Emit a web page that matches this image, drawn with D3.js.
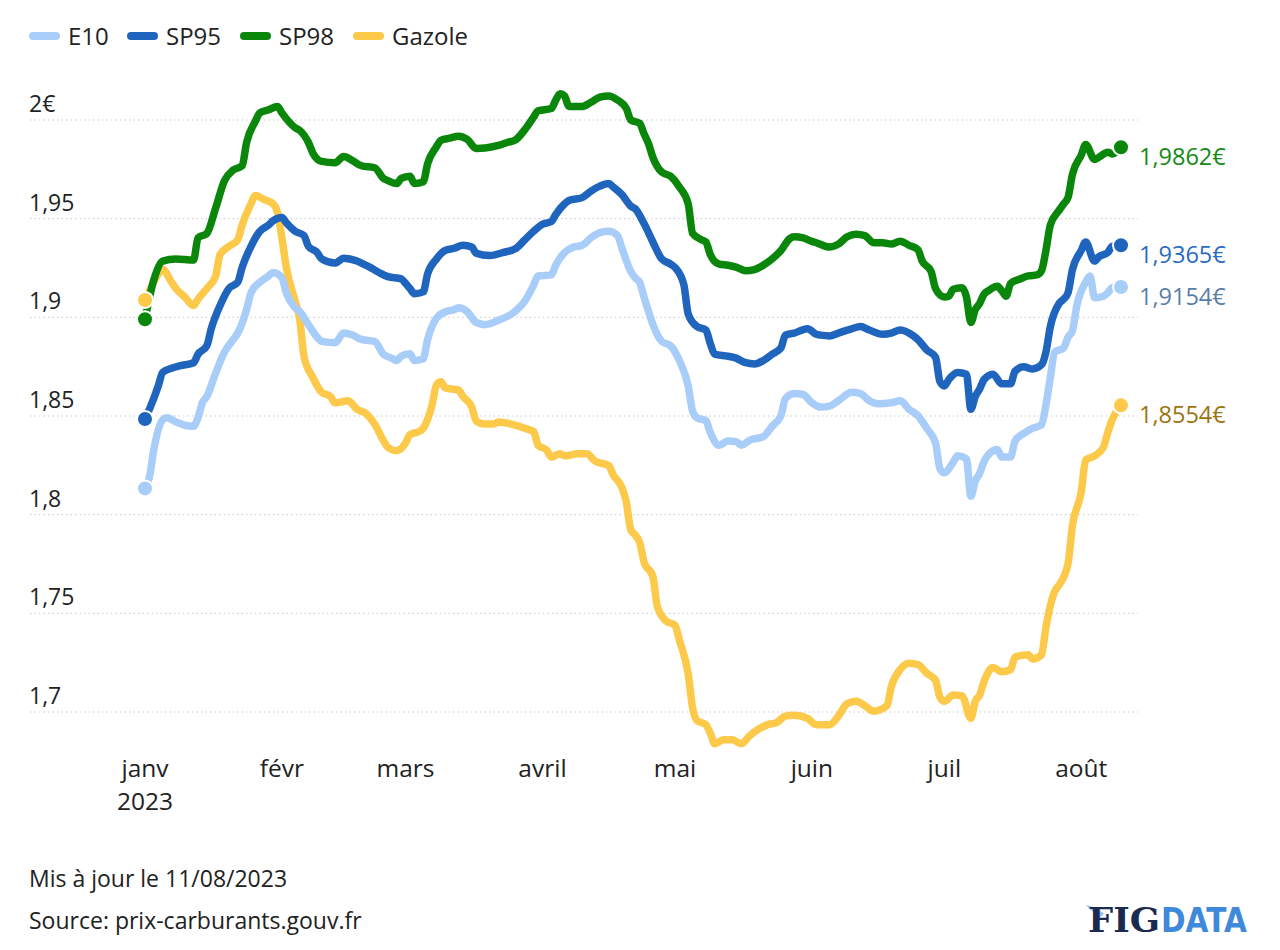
<!DOCTYPE html>
<html><head><meta charset="utf-8">
<script src="https://cdn.jsdelivr.net/npm/d3@7"></script>
<style>body{margin:0;background:#fff} svg text{font-family:"Open Sans","Noto Sans",sans-serif}</style>
</head><body><svg id="c" width="1280" height="950"></svg>
<script>
// x values: days since 1 Jan 2023
const startDate = new Date(2023, 0, 1);
const seriesNames = ["E10", "SP95", "SP98", "Gazole"];
const seriesColors = ["#a9cdf9", "#1f64bd", "#0a870a", "#fdc94b"];
const labelColors = ["#5a7ea8", "#2a6cc2", "#148a14", "#9a7412"];

const e10 = [[0,1.8133],[1,1.819],[2,1.833],[4,1.848],[5,1.8491],[7,1.847],[9,1.8453],[11,1.8448],[12,1.8491],[13,1.8567],[14,1.8599],[16,1.8717],[18,1.8824],[20,1.8888],[21,1.892],[23,1.9039],[24,1.9124],[26,1.9178],[28,1.921],[29,1.9227],[31,1.92],[32,1.9124],[34,1.9049],[35,1.903],[37,1.8963],[39,1.8899],[40,1.8878],[43,1.8871],[45,1.892],[47,1.891],[49,1.8888],[52,1.8878],[54,1.8813],[56,1.8792],[57,1.8781],[58,1.8803],[60,1.8815],[61,1.8781],[63,1.879],[64,1.8888],[66,1.8996],[68,1.9028],[70,1.9039],[71,1.9049],[73,1.9028],[75,1.8974],[77,1.8963],[80,1.8985],[83,1.9017],[84,1.9034],[86,1.9082],[88,1.9163],[89,1.921],[92,1.9215],[93,1.9264],[95,1.9328],[97,1.9356],[99,1.9365],[101,1.9403],[103,1.9429],[105,1.9436],[107,1.9414],[108,1.935],[110,1.9232],[111,1.92],[112,1.9178],[113,1.9103],[114,1.903],[115,1.8964],[117,1.8878],[119,1.8856],[121,1.8781],[123,1.8652],[124,1.8524],[125,1.8491],[127,1.8476],[128,1.8416],[130,1.8352],[132,1.8373],[134,1.8369],[135,1.8352],[137,1.8378],[140,1.8395],[142,1.8448],[144,1.8502],[145,1.8588],[147,1.8614],[149,1.8609],[151,1.8567],[153,1.8545],[155,1.855],[157,1.8577],[160,1.862],[162,1.8614],[164,1.8577],[166,1.8562],[169,1.8567],[171,1.8577],[173,1.8534],[175,1.8502],[177,1.8438],[179,1.8363],[180,1.8234],[181,1.8212],[183,1.8266],[184,1.8298],[186,1.8283],[187,1.8094],[188,1.817],[189,1.821],[190,1.827],[191,1.8305],[193,1.833],[194,1.8292],[196,1.8292],[197,1.8373],[199,1.8412],[201,1.8438],[203,1.8455],[204,1.8556],[205,1.8695],[206,1.8824],[208,1.8845],[209,1.8899],[210,1.8931],[211,1.906],[213,1.9178],[214,1.921],[215,1.9099],[217,1.9107],[218,1.9124],[219,1.915],[221,1.9154]];

const sp95 = [[0,1.8485],[1,1.8534],[3,1.8652],[4,1.8721],[6,1.8742],[8,1.8755],[11,1.877],[12,1.8813],[14,1.8856],[15,1.8942],[17,1.906],[19,1.9146],[21,1.9178],[22,1.9253],[24,1.936],[26,1.9436],[28,1.9468],[29,1.9489],[31,1.9506],[32,1.9479],[34,1.9436],[36,1.9414],[37,1.936],[39,1.9328],[40,1.9296],[43,1.9275],[45,1.93],[48,1.9285],[49,1.9275],[51,1.9253],[53,1.9227],[55,1.9206],[58,1.9195],[59,1.9172],[60,1.9146],[61,1.912],[63,1.9129],[64,1.9221],[66,1.9296],[68,1.9339],[70,1.935],[72,1.9365],[74,1.9356],[75,1.9325],[78,1.9313],[81,1.9328],[84,1.935],[86,1.9393],[88,1.9436],[90,1.9472],[92,1.9485],[93,1.9521],[95,1.9575],[96,1.9592],[99,1.9607],[101,1.964],[103,1.9665],[105,1.9678],[106,1.9661],[108,1.9622],[110,1.9564],[111,1.955],[113,1.9475],[115,1.9382],[117,1.9296],[119,1.927],[120,1.9253],[122,1.9167],[123,1.9017],[125,1.8953],[127,1.8936],[128,1.8867],[129,1.8813],[132,1.8803],[134,1.8792],[136,1.877],[138,1.8764],[140,1.8781],[142,1.8813],[144,1.8845],[145,1.891],[147,1.892],[150,1.8942],[152,1.8914],[153,1.891],[155,1.8906],[157,1.892],[160,1.8942],[162,1.8953],[164,1.8936],[167,1.8914],[169,1.892],[171,1.8936],[174,1.8906],[175,1.8888],[177,1.8835],[179,1.8798],[180,1.8674],[181,1.8652],[182,1.8685],[184,1.8721],[186,1.8712],[187,1.8534],[188,1.8599],[189,1.8637],[190,1.8685],[192,1.8712],[194,1.8663],[196,1.8663],[197,1.8727],[199,1.8749],[201,1.8738],[203,1.876],[204,1.8824],[205,1.8953],[207,1.9071],[208,1.9092],[209,1.9124],[210,1.9242],[212,1.9339],[213,1.9382],[215,1.9285],[216,1.9307],[218,1.9328],[219,1.936],[221,1.9365]];

const sp98 = [[0,1.899],[2,1.919],[4,1.9285],[7,1.9296],[11,1.929],[12,1.9403],[14,1.9425],[16,1.9554],[18,1.9693],[20,1.9747],[22,1.9768],[23,1.9886],[25,1.9994],[26,2.0036],[28,2.0052],[30,2.0069],[31,2.0036],[34,1.9961],[35,1.9948],[37,1.9886],[38,1.9833],[40,1.979],[43,1.9783],[45,1.9815],[47,1.9794],[49,1.9768],[52,1.9758],[54,1.9704],[55,1.9693],[57,1.9678],[58,1.9704],[60,1.9715],[61,1.9678],[63,1.9687],[64,1.9779],[66,1.9865],[67,1.9897],[69,1.9908],[71,1.9918],[73,1.9901],[75,1.9856],[77,1.9858],[80,1.9871],[82,1.9886],[84,1.9901],[86,1.9951],[88,2.0015],[89,2.0047],[92,2.0058],[93,2.0101],[94,2.0133],[95,2.0122],[96,2.0069],[99,2.0069],[101,2.009],[103,2.0116],[105,2.0122],[107,2.0101],[109,2.0058],[110,2.0],[112,1.9983],[113,1.993],[114,1.988],[115,1.9811],[117,1.9736],[119,1.9715],[121,1.9661],[123,1.9575],[124,1.9425],[126,1.9393],[127,1.9382],[128,1.9318],[130,1.927],[132,1.9264],[134,1.9253],[136,1.9236],[138,1.9242],[140,1.9264],[142,1.9296],[144,1.9339],[146,1.9399],[147,1.9408],[149,1.9403],[151,1.9385],[152,1.9378],[155,1.9356],[157,1.9371],[159,1.9408],[161,1.9421],[163,1.9414],[165,1.9378],[167,1.9378],[169,1.9371],[171,1.9386],[173,1.9365],[175,1.9343],[176,1.9285],[178,1.9232],[179,1.9146],[181,1.9103],[182,1.9107],[183,1.9142],[185,1.915],[186,1.9103],[187,1.8974],[188,1.9039],[189,1.9071],[190,1.9118],[191,1.9135],[193,1.9157],[194,1.9135],[195,1.9107],[196,1.9172],[198,1.9193],[200,1.921],[202,1.9215],[203,1.9236],[204,1.9339],[205,1.9468],[207,1.9543],[208,1.9575],[209,1.9607],[210,1.9725],[212,1.9822],[213,1.9876],[215,1.98],[216,1.9811],[218,1.9837],[219,1.9828],[221,1.9862]];

const gazole = [[0,1.9088],[2,1.918],[4,1.9242],[6,1.9178],[7,1.9146],[9,1.9103],[11,1.906],[12,1.9092],[14,1.9146],[16,1.921],[17,1.9318],[19,1.936],[21,1.9393],[22,1.9468],[24,1.9575],[25,1.9618],[27,1.9597],[29,1.9575],[30,1.9532],[31,1.9403],[32,1.9253],[34,1.9082],[35,1.8996],[36,1.8803],[38,1.8695],[40,1.862],[42,1.8599],[43,1.8567],[46,1.8577],[48,1.8534],[50,1.8513],[52,1.8459],[54,1.8374],[55,1.8341],[57,1.8324],[59,1.8363],[60,1.8406],[62,1.8421],[63,1.8438],[65,1.8556],[66,1.8657],[67,1.8674],[68,1.8642],[71,1.8631],[72,1.8599],[74,1.8545],[75,1.8475],[77,1.8459],[79,1.8459],[80,1.847],[83,1.8459],[86,1.8438],[88,1.8421],[89,1.8352],[91,1.8326],[92,1.8292],[94,1.8309],[95,1.8298],[98,1.8309],[100,1.8309],[102,1.827],[105,1.8249],[106,1.8202],[108,1.8137],[109,1.8062],[110,1.7923],[111,1.7897],[112,1.786],[113,1.776],[115,1.7687],[116,1.7536],[118,1.7461],[120,1.744],[121,1.7365],[123,1.7193],[124,1.7021],[125,1.6957],[127,1.6936],[128,1.6893],[129,1.6839],[131,1.686],[133,1.686],[135,1.6839],[137,1.6882],[139,1.6914],[141,1.6936],[143,1.6946],[145,1.6979],[147,1.6983],[150,1.6968],[152,1.6936],[155,1.6936],[157,1.6979],[159,1.7043],[161,1.7054],[163,1.7032],[165,1.7004],[168,1.7032],[169,1.7129],[171,1.7215],[173,1.7247],[175,1.724],[177,1.7197],[179,1.7161],[180,1.7075],[181,1.7054],[183,1.7086],[185,1.7082],[187,1.6968],[188,1.7054],[189,1.7086],[190,1.7155],[192,1.7225],[194,1.7204],[196,1.7215],[197,1.7279],[200,1.729],[201,1.7268],[203,1.729],[204,1.7429],[206,1.7612],[207,1.7644],[209,1.7751],[210,1.7944],[212,1.8116],[213,1.8277],[215,1.8298],[217,1.8341],[218,1.8416],[219,1.8481],[221,1.8554]];

const seriesData = [e10, sp95, sp98, gazole];
const lastLabels = ["1,9154€", "1,9365€", "1,9862€", "1,8554€"];
const yTicks = [2, 1.95, 1.9, 1.85, 1.8, 1.75, 1.7];
const yTickLabels = ["2€", "1,95", "1,9", "1,85", "1,8", "1,75", "1,7"];
const monthDays = [0, 31, 59, 90, 120, 151, 181, 212];
const monthLabels = ["janv", "févr", "mars", "avril", "mai", "juin", "juil", "août"];
const yearLabel = "2023";
const footerLines = ["Mis à jour le 11/08/2023", "Source: prix-carburants.gouv.fr"];

const svg = d3.select("#c");
const dayToDate = d => d3.timeDay.offset(startDate, d);
const x = d3.scaleTime().domain([dayToDate(0), dayToDate(221)]).range([145, 1121]);
const y = d3.scaleLinear().domain([1.7, 2]).range([712, 120]);

// grid + y labels
const yAxis = svg.append("g");
yTicks.forEach((t, i) => {
  yAxis.append("line").attr("x1", 30).attr("x2", 1138).attr("y1", y(t)).attr("y2", y(t))
    .attr("stroke", "#c9c9c9").attr("stroke-width", 1).attr("stroke-dasharray", "1.5,3");
  yAxis.append("text").attr("x", 29).attr("y", y(t) - 8).attr("font-size", 23).attr("fill", "#222")
    .text(yTickLabels[i]);
});

// x labels
monthDays.forEach((d, i) => {
  svg.append("text").attr("x", x(dayToDate(d))).attr("y", 777).attr("text-anchor", "middle")
    .attr("font-size", 24.5).attr("fill", "#222").text(monthLabels[i]);
});
svg.append("text").attr("x", x(dayToDate(0))).attr("y", 810).attr("text-anchor", "middle")
  .attr("font-size", 24.5).attr("fill", "#222").text(yearLabel);

// lines
const line = d3.line().x(d => x(dayToDate(d[0]))).y(d => y(d[1])).curve(d3.curveMonotoneX);
const drawOrder = [3, 0, 1, 2];
drawOrder.forEach(i => {
  const data = seriesData[i];
  svg.append("path").attr("d", line(data)).attr("fill", "none").attr("stroke", seriesColors[i])
    .attr("stroke-width", 7.5).attr("stroke-linejoin", "round").attr("stroke-linecap", "round");
});
drawOrder.forEach(i => {
  const data = seriesData[i];
  [data[0], data[data.length - 1]].forEach(p => {
    svg.append("circle").attr("cx", x(dayToDate(p[0]))).attr("cy", y(p[1])).attr("r", 8)
      .attr("fill", seriesColors[i]).attr("stroke", "#fff").attr("stroke-width", 2);
  });
  const last = data[data.length - 1];
  svg.append("text").attr("x", 1139).attr("y", y(last[1]) + 18).attr("font-size", 23.5)
    .attr("fill", labelColors[i]).text(lastLabels[i]);
});

// legend
const legendX = [29, 127, 240, 353];
seriesNames.forEach((n, i) => {
  const g = svg.append("g");
  g.append("line").attr("x1", legendX[i] + 4).attr("x2", legendX[i] + 27).attr("y1", 36).attr("y2", 36)
    .attr("stroke", seriesColors[i]).attr("stroke-width", 8).attr("stroke-linecap", "round");
  g.append("text").attr("x", legendX[i] + 39).attr("y", 45).attr("font-size", 24).attr("fill", "#222").text(n);
});

// footer
footerLines.forEach((t, i) => {
  svg.append("text").attr("x", 29).attr("y", 887 + i * 42).attr("font-size", 23).attr("fill", "#222").text(t);
});

// logo
const logo = svg.append("g");
logo.append("path").attr("d", "M1086,905 C1092,906 1099,909 1104,914 L1100,917 C1095,913 1090,910 1086,905 Z")
  .attr("fill", "#8fc0ee");
logo.append("text").attr("x", 1088).attr("y", 932).attr("font-size", 33).attr("font-weight", "bold")
  .style("font-family", "'DejaVu Serif',serif").attr("fill", "#1b2b4f")
  .attr("textLength", 72).attr("lengthAdjust", "spacingAndGlyphs").text("FIG");
logo.append("text").attr("x", 1161).attr("y", 932).attr("font-size", 33).attr("font-weight", "bold")
  .style("font-family", "'DejaVu Sans',sans-serif").attr("fill", "#3f89da")
  .attr("textLength", 86).attr("lengthAdjust", "spacingAndGlyphs").text("DATA");
</script></body></html>
